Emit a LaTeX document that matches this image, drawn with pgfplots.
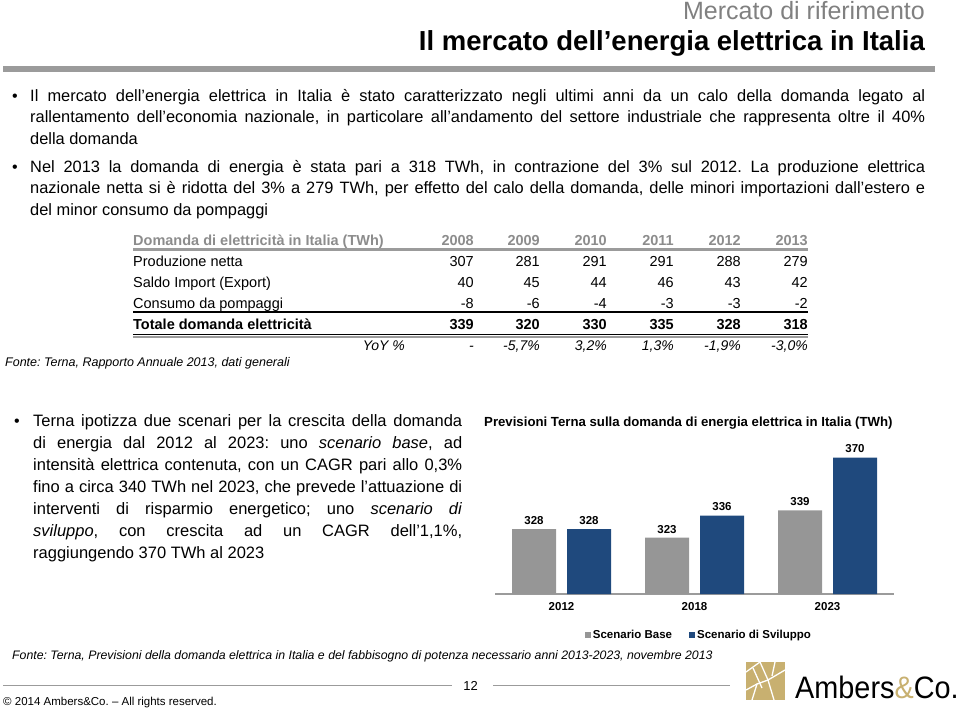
\documentclass[border=0pt]{standalone}
\usepackage{fontspec}
\setmainfont{Liberation Sans}
\usepackage{pgfplots}
\pgfplotsset{compat=1.18}
\definecolor{bargrey}{RGB}{150,150,150}
\definecolor{barblue}{RGB}{31,73,125}
\definecolor{rulegrey}{RGB}{155,155,155}
\definecolor{hdrgrey}{RGB}{140,140,140}
\definecolor{subgrey}{RGB}{128,128,128}
\definecolor{gold}{RGB}{200,176,112}
\newcommand{\fs}[2]{\fontsize{#1}{#2}\selectfont}
\frenchspacing
\begin{document}
\begin{tikzpicture}
\path[use as bounding box] (0pt,0pt) rectangle (960pt,-709pt);
% header
\node[anchor=base east, inner sep=0, text=subgrey] at (925pt,-20pt) {\fs{25}{28}Mercato di riferimento};
\node[anchor=base east, inner sep=0] at (925pt,-51pt) {\fs{27.5}{30}\bfseries Il mercato dell’energia elettrica in Italia};
\fill[rulegrey] (3pt,-66pt) rectangle (935pt,-72pt);
% paragraph 1
\node[anchor=base west, inner sep=0] at (12pt,-101pt) {\fs{16}{20}\textbullet};
\node[anchor=base west, inner sep=0] at (30pt,-101pt) {\parbox[t]{895pt}{\fs{16.4}{21.5}\frenchspacing\hyphenpenalty=10000\emergencystretch=30pt
Il mercato dell'energia elettrica in Italia è stato caratterizzato negli ultimi anni da un calo della domanda legato al\linebreak
rallentamento dell'economia nazionale, in particolare all’andamento del settore industriale che rappresenta oltre il 40\%\linebreak
della domanda}};
\node[anchor=base west, inner sep=0] at (12pt,-172pt) {\fs{16}{20}\textbullet};
\node[anchor=base west, inner sep=0] at (30pt,-172pt) {\parbox[t]{895pt}{\fs{16.4}{21.8}\frenchspacing\hyphenpenalty=10000\emergencystretch=30pt
Nel 2013 la domanda di energia è stata pari a 318 TWh, in contrazione del 3\% sul 2012. La produzione elettrica\linebreak
nazionale netta si è ridotta del 3\% a 279 TWh, per effetto del calo della domanda, delle minori importazioni dall’estero e\linebreak
del minor consumo da pompaggi}};
% table
\node[anchor=base west, inner sep=0, text=hdrgrey] at (133pt,-245pt) {\fs{14.5}{16}\bfseries Domanda di elettricità in Italia (TWh)};
\foreach \x/\v in {474/2008,540/2009,607/2010,674/2011,741/2012,808/2013}
  \node[anchor=base east, inner sep=0, text=hdrgrey] at (\x pt,-245pt) {\fs{14.5}{16}\bfseries\v};
\draw[rulegrey, line width=2.5pt] (133pt,-249.5pt) -- (808pt,-249.5pt);
\node[anchor=base west, inner sep=0] at (133pt,-266pt) {\fs{14.5}{16}Produzione netta};
\node[anchor=base west, inner sep=0] at (133pt,-287pt) {\fs{14.5}{16}Saldo Import (Export)};
\node[anchor=base west, inner sep=0] at (133pt,-308pt) {\fs{14.5}{16}Consumo da pompaggi};
\node[anchor=base west, inner sep=0] at (133pt,-329pt) {\fs{14.5}{16}\bfseries Totale domanda elettricità};
\foreach \x/\a/\b/\c/\d in {474/307/40/-8/339,540/281/45/-6/320,607/291/44/-4/330,674/291/46/-3/335,741/288/43/-3/328,808/279/42/-2/318}{
  \node[anchor=base east, inner sep=0] at (\x pt,-266pt) {\fs{14.5}{16}\a};
  \node[anchor=base east, inner sep=0] at (\x pt,-287pt) {\fs{14.5}{16}\b};
  \node[anchor=base east, inner sep=0] at (\x pt,-308pt) {\fs{14.5}{16}\c};
  \node[anchor=base east, inner sep=0] at (\x pt,-329pt) {\fs{14.5}{16}\bfseries\d};
}
\node[anchor=base east, inner sep=0] at (474pt,-350pt) {\fs{14}{16}\itshape -};
\node[anchor=base east, inner sep=0] at (540pt,-350pt) {\fs{14}{16}\itshape -5,7\%};
\node[anchor=base east, inner sep=0] at (607pt,-350pt) {\fs{14}{16}\itshape 3,2\%};
\node[anchor=base east, inner sep=0] at (674pt,-350pt) {\fs{14}{16}\itshape 1,3\%};
\node[anchor=base east, inner sep=0] at (741pt,-350pt) {\fs{14}{16}\itshape -1,9\%};
\node[anchor=base east, inner sep=0] at (808pt,-350pt) {\fs{14}{16}\itshape -3,0\%};
\node[anchor=base east, inner sep=0] at (405pt,-350pt) {\fs{14}{16}\itshape YoY \%};
\draw[black, line width=2pt] (133pt,-312pt) -- (808pt,-312pt);
\draw[black, line width=1.5pt] (133pt,-334.3pt) -- (808pt,-334.3pt);
\draw[rulegrey, line width=2pt] (133pt,-337pt) -- (808pt,-337pt);
\node[anchor=base west, inner sep=0] at (5pt,-366pt) {\fs{12.5}{14}\itshape Fonte: Terna, Rapporto Annuale 2013, dati generali};
% bottom-left paragraph
\node[anchor=base west, inner sep=0] at (14pt,-426pt) {\fs{16}{20}\textbullet};
\node[anchor=base west, inner sep=0] at (33pt,-426pt) {\parbox[t]{429pt}{\fs{16.5}{22}\frenchspacing\hyphenpenalty=10000\emergencystretch=30pt
Terna ipotizza due scenari per la crescita della domanda\linebreak
di energia dal 2012 al 2023: uno \textit{scenario base}, ad\linebreak
intensità elettrica contenuta, con un CAGR pari allo 0,3\%\linebreak
fino a circa 340 TWh nel 2023, che prevede l’attuazione di\linebreak
interventi di risparmio energetico; uno \textit{scenario di}\linebreak
\textit{sviluppo}, con crescita ad un CAGR dell'1,1\%,\linebreak
raggiungendo 370 TWh al 2023}};
% chart title
\node[anchor=base west, inner sep=0] at (484pt,-426pt) {\fs{13.2}{15}\bfseries Previsioni Terna sulla domanda di energia elettrica in Italia (TWh)};
% chart
\begin{axis}[
  at={(495pt,-594pt)}, anchor=south west,
  scale only axis, width=399pt, height=145pt,
  xmin=-0.5, xmax=2.5, ymin=290, ymax=375,
  ybar=11pt, bar width=44pt,
  axis x line*=bottom, axis y line=none,
  axis line style={draw=rulegrey, line width=1.5pt, -},
  xtick={0,1,2}, xticklabels={2012,2018,2023},
  major tick length=0pt,
  xticklabel style={font=\fs{11.5}{13}\bfseries, yshift=-5pt},
  ytick=\empty,
  clip=false,
  /pgf/number format/assume math mode=true,
  nodes near coords,
  nodes near coords style={font=\fs{11.5}{13}\bfseries, text=black, yshift=1pt},
  legend style={at={(0.511,-0.283)}, anchor=center, draw=none, fill=none,
    legend columns=2, font=\fs{11.5}{13}\bfseries,
    /tikz/every even column/.append style={column sep=15pt},
    inner sep=0pt},
  legend image code/.code={\fill[#1] (0pt,-3pt) rectangle (6pt,3pt);},
]
\addplot[fill=bargrey, draw=none] coordinates {(0,328) (1,323) (2,339)};
\addplot[fill=barblue, draw=none] coordinates {(0,328) (1,336) (2,370)};
\legend{Scenario Base, Scenario di Sviluppo}
\end{axis}
% footer
\node[anchor=base west, inner sep=0] at (12pt,-659pt) {\fs{12.3}{14}\itshape Fonte: Terna, Previsioni della domanda elettrica in Italia e del fabbisogno di potenza necessario anni 2013-2023, novembre 2013};
\draw[rulegrey, line width=1pt] (3pt,-685pt) -- (452pt,-685pt);
\draw[rulegrey, line width=1pt] (493pt,-685pt) -- (730pt,-685pt);
\node[anchor=base, inner sep=0] at (470.5pt,-690pt) {\fs{13}{15}12};
\node[anchor=base west, inner sep=0] at (3pt,-705pt) {\fs{11.5}{13}© 2014 Ambers\&Co. – All rights reserved.};
% logo
\fill[gold] (746pt,-662pt) rectangle (785pt,-700pt);
\begin{scope}[white, line width=1.3pt]
\draw (746pt,-672pt) -- (760pt,-662pt);
\draw (760pt,-662pt) -- (768pt,-680pt) -- (785pt,-670pt);
\draw (752pt,-700pt) -- (757pt,-684pt) -- (768pt,-680pt);
\draw (757pt,-684pt) -- (746pt,-690pt);
\draw (768pt,-680pt) -- (774pt,-700pt);
\draw (775pt,-662pt) -- (772pt,-676pt);
\draw (753pt,-668pt) -- (762pt,-688pt);
\end{scope}
\node[anchor=base west, inner sep=0, xscale=0.93] at (795pt,-698pt) {\fs{31}{34}Ambers\textcolor{gold}{\&}Co.};
\end{tikzpicture}
\end{document}
